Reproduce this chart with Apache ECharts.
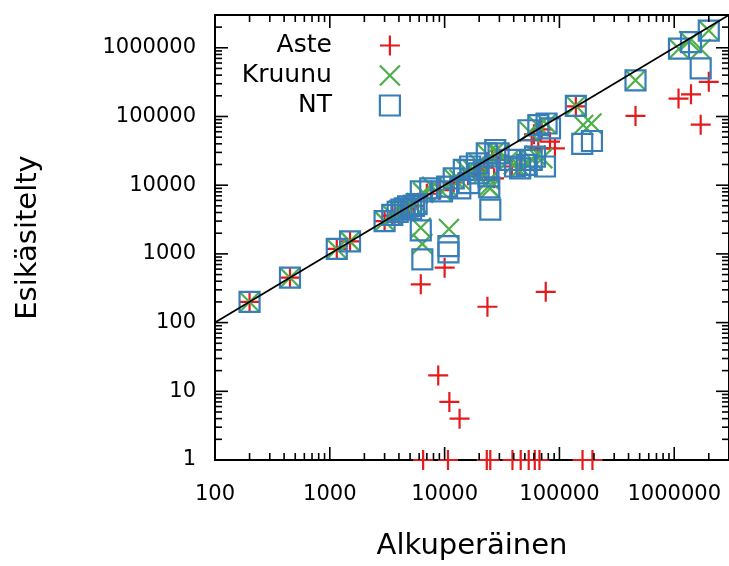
<!DOCTYPE html>
<html><head><meta charset="utf-8">
<script src="https://cdn.jsdelivr.net/npm/echarts@6/dist/echarts.min.js"></script>
<style>html,body{margin:0;padding:0;background:#fff}#c{width:729px;height:566px}</style>
</head><body><div id="c"></div><script>
// ---- data ----
const seriesNames = ['Aste', 'Kruunu', 'NT'];
const asteData = [
  [200,200],[450,450],[1150,1180],[1500,1520],[3000,3000],[3500,3600],[4000,3800],[4400,4500],[4900,4700],[5400,5000],
  [6200,360],[10000,630],[23600,170],[76000,280],[8800,17],[11000,7],[13500,4],
  [6500,1],[10700,1],[23300,1],[25000,1],[39000,1],[46000,1],[54000,1],[61000,1],[67000,1],[159000,1],[194000,1],
  [7000,7500],[9000,8500],[12000,11000],[16000,14000],[19000,17000],[22000,18000],[27000,12600],[26000,25000],[29000,27000],
  [38500,18700],[45000,20000],[57300,45400],[65500,34400],[82800,43000],[91400,34400],[60000,55000],[70000,65000],
  [139000,140000],[460000,102000],[1090000,182000],[1400000,210000],[1700000,76000],[2000000,320000]
];
const kruunuData = [
  [200,200],[450,450],[1150,1180],[1500,1520],[3000,3000],[3500,3700],[4000,4300],[4400,4500],[4800,4700],[5300,5100],[5700,5500],
  [6200,2400],[6400,1400],[6500,7800],[7800,9500],[9500,8000],[10500,9600],[10900,2300],[12000,12500],[13500,12000],
  [15500,16500],[17500,17000],[20000,20500],[22000,15000],[24000,9500],[24500,12000],[25000,9000],
  [23500,28500],[27500,31000],[30000,29000],[36000,23000],[40000,20000],[46000,18000],[52000,20500],[58000,23000],[62000,27000],
  [71000,24600],[55000,60000],[66000,72000],[77000,78000],
  [139000,143000],[161000,75000],[190000,79000],[460000,336000],[1100000,970000],[1350000,1250000],[1700000,960000],[2000000,1780000]
];
const ntData = [
  [200,200],[450,450],[1150,1180],[1500,1520],[3000,3000],[3500,3700],
  [3900,4100],[4200,4400],[4500,4600],[4800,4900],[5100,4500],[5400,5000],[5700,5300],
  [6200,2200],[6400,830],[6200,8100],[7500,9000],[9500,8100],[10500,9500],[10800,1300],[10800,1050],
  [12000,12600],[13700,9000],[14700,16700],[16700,18700],[19100,20800],[16200,10700],[19800,14900],
  [23300,29000],[27600,32500],[29500,29000],[23300,16700],[24100,13400],[24500,9300],[25000,4400],
  [37200,23300],[41100,18700],[45500,17600],[51900,19700],[57300,23300],[61300,26000],[74800,18700],
  [53700,63000],[65500,75000],[77300,79000],[82800,67000],
  [139000,143000],[158000,40000],[192000,44000],[460000,336000],[1100000,970000],[1400000,1210000],[1700000,500000],[2000000,1780000]
];
const refLine = [[100,100],[3000000,3000000]];
const xRange = [100, 3000000];
const yRange = [1, 3000000];

// ---- styling ----
const colors = ['#e41a1c', '#4daf4a', '#377eb8'];
const symbols = [
  'path://M0,10L20,10M10,0L10,20',
  'path://M0,0L20,20M20,0L0,20',
  'path://M0,0L20,0L20,20L0,20Z'
];
const symSizes = [20, 20, 20];
const FONT = 'DejaVu Sans';

// tick marks (major at decades, minor at 2..9)
function logTicks(lo, hi, dir) {
  const out = [];
  for (let e = Math.floor(Math.log10(lo)); e <= Math.ceil(Math.log10(hi)); e++) {
    for (let m = 1; m <= 9; m++) {
      const v = m * Math.pow(10, e);
      if (v < lo * 0.999 || v > hi * 1.001) continue;
      const len = m === 1 ? 13 : 7;
      out.push(dir === 0 ? [v, 1, len, 0] : [100, v, len, 1]);
    }
  }
  return out;
}
const tickData = logTicks(xRange[0], xRange[1], 0).concat(logTicks(yRange[0], yRange[1], 1));

function renderTicks(params, api) {
  const cs = params.coordSys;
  const len = api.value(2), dir = api.value(3);
  const st = {stroke: '#000', lineWidth: 1.6};
  if (dir === 0) {
    const p = api.coord([api.value(0), 1])[0];
    const b = cs.y + cs.height, t = cs.y;
    return {type: 'group', children: [
      {type: 'line', shape: {x1: p, y1: b, x2: p, y2: b - len}, style: st},
      {type: 'line', shape: {x1: p, y1: t, x2: p, y2: t + len}, style: st}
    ]};
  } else {
    const p = api.coord([100, api.value(1)])[1];
    const l = cs.x, r = cs.x + cs.width;
    return {type: 'group', children: [
      {type: 'line', shape: {x1: l, y1: p, x2: l + len, y2: p}, style: st},
      {type: 'line', shape: {x1: r, y1: p, x2: r - len, y2: p}, style: st}
    ]};
  }
}

const allData = [asteData, kruunuData, ntData];
const scatterSeries = seriesNames.map((n, i) => ({
  type: 'scatter', name: n, data: allData[i],
  symbol: symbols[i], symbolSize: symSizes[i],
  itemStyle: {color: 'rgba(0,0,0,0)', borderColor: colors[i], borderWidth: 2.2, opacity: 1},
  clip: false, silent: true, animation: false
}));

const chart = echarts.init(document.getElementById('c'), null, {renderer: 'canvas'});
chart.setOption({
  animation: false,
  backgroundColor: '#fff',
  grid: {left: 215, top: 15, width: 517, height: 448, show: true, borderColor: '#000', borderWidth: 2, backgroundColor: 'transparent'},
  legend: {
    data: seriesNames.map((n, i) => ({name: n, icon: symbols[i], itemStyle: {color: 'rgba(0,0,0,0)', borderColor: colors[i], borderWidth: 2.2}})),
    orient: 'vertical', align: 'right', right: 328, top: 33, padding: 0, itemGap: 5,
    itemWidth: 20, itemHeight: 20, selectedMode: false,
    textStyle: {fontSize: 25, fontFamily: FONT, color: '#000', width: 100, align: 'right', padding: [0, 43, 0, 0]}
  },
  xAxis: {
    type: 'log', logBase: 10, min: xRange[0], max: xRange[1],
    name: 'Alkuperäinen', nameLocation: 'middle', nameGap: 72,
    nameTextStyle: {fontSize: 29, fontFamily: FONT, color: '#000'},
    axisLine: {show: true, lineStyle: {color: '#000', width: 2}},
    axisTick: {show: false}, splitLine: {show: false}, minorTick: {show: false},
    axisLabel: {fontSize: 21, fontFamily: FONT, color: '#000', margin: 24, showMaxLabel: false,
      formatter: v => String(Math.round(v))}
  },
  yAxis: {
    type: 'log', logBase: 10, min: yRange[0], max: yRange[1],
    name: 'Esikäsitelty', nameLocation: 'middle', nameGap: 172, nameRotate: 90,
    nameTextStyle: {fontSize: 29, fontFamily: FONT, color: '#000'},
    axisLine: {show: true, lineStyle: {color: '#000', width: 2}},
    axisTick: {show: false}, splitLine: {show: false}, minorTick: {show: false},
    axisLabel: {fontSize: 21, fontFamily: FONT, color: '#000', margin: 19, showMaxLabel: false,
      formatter: v => String(Math.round(v))}
  },
  series: scatterSeries.concat([
    {type: 'line', name: 'y=x', data: refLine, symbol: 'none', silent: true,
     lineStyle: {color: '#000', width: 1.8}, z: 3},
    {type: 'custom', name: 'ticks', data: tickData, renderItem: renderTicks, silent: true,
     encode: {x: 0, y: 1}, clip: false, z: 5}
  ])
});
</script></body></html>
